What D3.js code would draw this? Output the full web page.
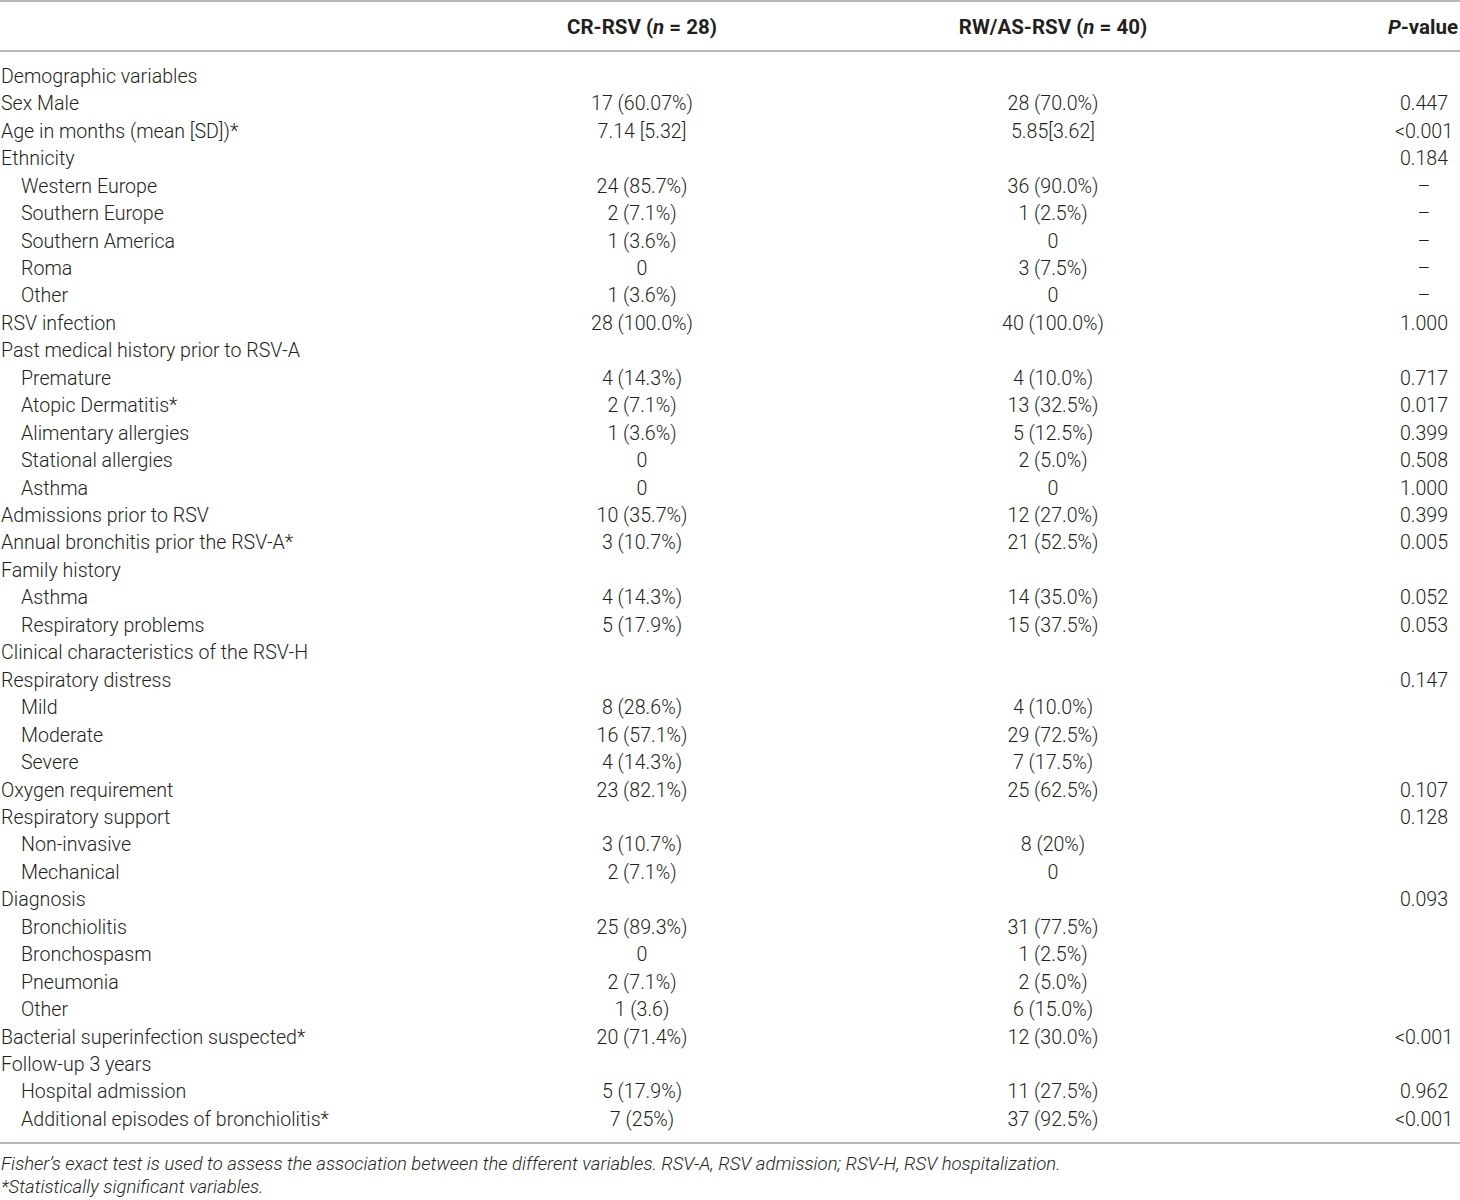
<!DOCTYPE html>
<html lang="en">
<head>
    <meta charset="UTF-8">
    <title>RSV table</title>
    <script src="https://d3js.org/d3.v7.min.js"></script>
    <style>
        body {
            margin: 0;
            background: #fff;
        }
        svg text {
            font-family: Roboto, "Liberation Sans", sans-serif;
            font-weight: 300;
            fill: #231f20;
        }
        .head text {
            font-weight: 700;
        }
        .rule {
            stroke: #a0a0a0;
            stroke-width: 1.5px;
        }
        .note {
            font-style: italic;
        }
    </style>
</head>
<body>
    <div id="table"></div>

    <script>
        const labels = [
            "Demographic variables", "Sex Male", "Age in months (mean [SD])*", "Ethnicity",
            "Western Europe", "Southern Europe", "Southern America", "Roma", "Other",
            "RSV infection", "Past medical history prior to RSV-A", "Premature",
            "Atopic Dermatitis*", "Alimentary allergies", "Stational allergies", "Asthma",
            "Admissions prior to RSV", "Annual bronchitis prior the RSV-A*", "Family history",
            "Asthma", "Respiratory problems", "Clinical characteristics of the RSV-H",
            "Respiratory distress", "Mild", "Moderate", "Severe", "Oxygen requirement",
            "Respiratory support", "Non-invasive", "Mechanical", "Diagnosis", "Bronchiolitis",
            "Bronchospasm", "Pneumonia", "Other", "Bacterial superinfection suspected*",
            "Follow-up 3 years", "Hospital admission", "Additional episodes of bronchiolitis*"
        ];
        const indented = [
            0, 0, 0, 0, 1, 1, 1, 1, 1, 0, 0, 1, 1, 1, 1, 1, 0, 0, 0, 1, 1, 0,
            0, 1, 1, 1, 0, 0, 1, 1, 0, 1, 1, 1, 1, 0, 0, 1, 1
        ];
        const crValues = [
            "", "17 (60.07%)", "7.14 [5.32]", "", "24 (85.7%)", "2 (7.1%)", "1 (3.6%)", "0",
            "1 (3.6%)", "28 (100.0%)", "", "4 (14.3%)", "2 (7.1%)", "1 (3.6%)", "0", "0",
            "10 (35.7%)", "3 (10.7%)", "", "4 (14.3%)", "5 (17.9%)", "", "", "8 (28.6%)",
            "16 (57.1%)", "4 (14.3%)", "23 (82.1%)", "", "3 (10.7%)", "2 (7.1%)", "",
            "25 (89.3%)", "0", "2 (7.1%)", "1 (3.6)", "20 (71.4%)", "", "5 (17.9%)", "7 (25%)"
        ];
        const rwValues = [
            "", "28 (70.0%)", "5.85[3.62]", "", "36 (90.0%)", "1 (2.5%)", "0", "3 (7.5%)",
            "0", "40 (100.0%)", "", "4 (10.0%)", "13 (32.5%)", "5 (12.5%)", "2 (5.0%)", "0",
            "12 (27.0%)", "21 (52.5%)", "", "14 (35.0%)", "15 (37.5%)", "", "", "4 (10.0%)",
            "29 (72.5%)", "7 (17.5%)", "25 (62.5%)", "", "8 (20%)", "0", "",
            "31 (77.5%)", "1 (2.5%)", "2 (5.0%)", "6 (15.0%)", "12 (30.0%)", "", "11 (27.5%)", "37 (92.5%)"
        ];
        const pValues = [
            "", "0.447", "<0.001", "0.184", "–", "–", "–", "–", "–", "1.000", "", "0.717",
            "0.017", "0.399", "0.508", "1.000", "0.399", "0.005", "", "0.052", "0.053", "",
            "0.147", "", "", "", "0.107", "0.128", "", "", "0.093", "", "", "", "",
            "<0.001", "", "0.962", "<0.001"
        ];
        const headers = [
            { pre: "CR-RSV (", n: "n", post: " = 28)" },
            { pre: "RW/AS-RSV (", n: "n", post: " = 40)" },
            { pre: "", n: "P", post: "-value" }
        ];
        const notes = [
            "Fisher’s exact test is used to assess the association between the different variables. RSV-A, RSV admission; RSV-H, RSV hospitalization.",
            "*Statistically significant variables."
        ];

        const width = 1460;
        const height = 1200;

        const svg = d3.select("#table")
            .append("svg")
            .attr("width", width)
            .attr("height", height);

        const idx = d3.range(labels.length);
        const y = d3.scalePoint()
            .domain(idx)
            .range([76, 1119]);

        // column centres for the value columns
        const colX = d3.scaleOrdinal()
            .domain(["cr", "rw", "p"])
            .range([642, 1053, 1424]);

        // rules
        svg.selectAll(".rule")
            .data([1, 51, 1143])
            .enter()
            .append("line")
            .attr("class", "rule")
            .attr("x1", 0)
            .attr("x2", width)
            .attr("y1", d => d)
            .attr("y2", d => d);

        // header
        const head = svg.append("g").attr("class", "head");
        const hx = [642, 1053, 1458];
        head.selectAll("text")
            .data(headers)
            .enter()
            .append("text")
            .attr("x", (d, i) => hx[i])
            .attr("y", 27)
            .attr("dy", "0.35em")
            .attr("text-anchor", (d, i) => i === 2 ? "end" : "middle")
            .style("font-size", "20.5px")
            .each(function(d) {
                const t = d3.select(this);
                t.append("tspan").text(d.pre);
                t.append("tspan").style("font-style", "italic").text(d.n);
                t.append("tspan").text(d.post);
            });

        // body rows
        const rows = svg.append("g")
            .selectAll("g")
            .data(idx)
            .enter()
            .append("g")
            .attr("transform", i => `translate(0,${y(i)})`)
            .style("font-size", "19.6px");

        rows.append("text")
            .attr("x", i => indented[i] ? 21 : 1)
            .attr("dy", "0.35em")
            .text(i => labels[i]);

        rows.append("text")
            .attr("x", colX("cr"))
            .attr("dy", "0.35em")
            .attr("text-anchor", "middle")
            .text(i => crValues[i]);

        rows.append("text")
            .attr("x", colX("rw"))
            .attr("dy", "0.35em")
            .attr("text-anchor", "middle")
            .text(i => rwValues[i]);

        rows.append("text")
            .attr("x", colX("p"))
            .attr("dy", "0.35em")
            .attr("text-anchor", "middle")
            .text(i => pValues[i]);

        // footnotes
        svg.selectAll(".note")
            .data(notes)
            .enter()
            .append("text")
            .attr("class", "note")
            .attr("x", 1)
            .attr("y", (d, i) => 1164 + i * 23)
            .attr("dy", "0.35em")
            .style("font-size", "18.5px")
            .text(d => d);
    </script>
</body>
</html>
